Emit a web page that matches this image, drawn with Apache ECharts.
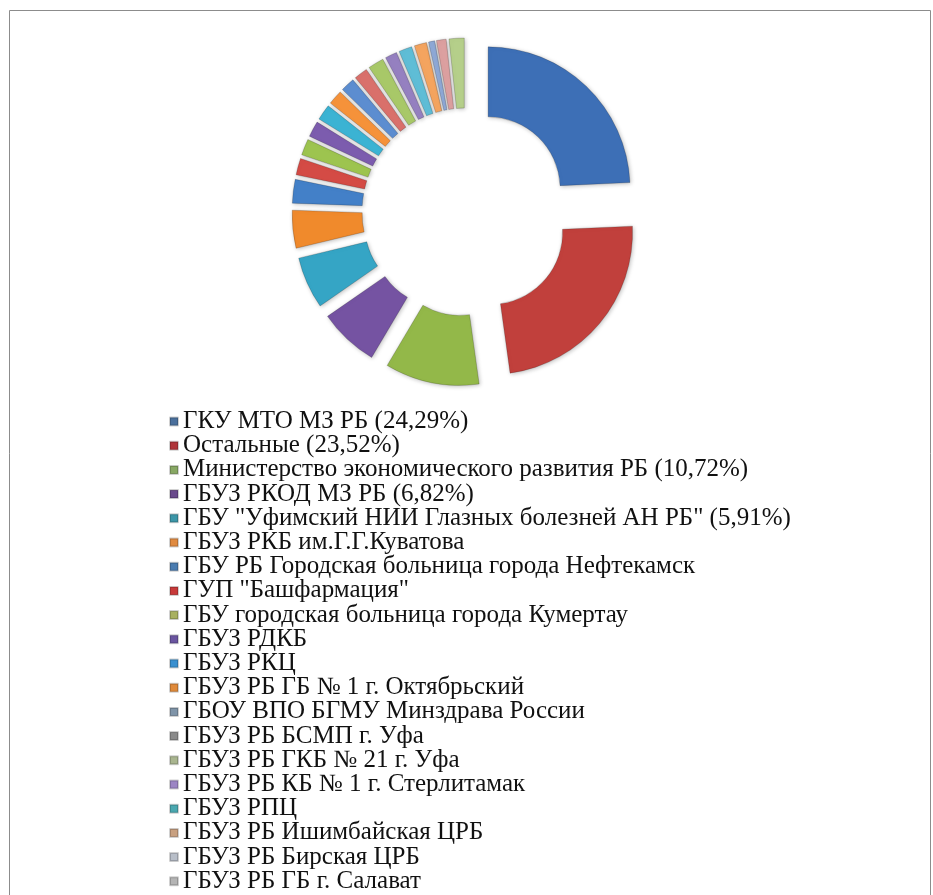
<!DOCTYPE html>
<html>
<head>
<meta charset="utf-8">
<script src="https://cdn.jsdelivr.net/npm/echarts@6/dist/echarts.min.js"></script>
<style>
  html, body { margin: 0; padding: 0; background: #ffffff; }
  #chart { width: 933px; height: 895px; }
</style>
</head>
<body>
<div id="chart"></div>
<script>
// Legend labels (as shown)
const categories = [
  'ГКУ МТО МЗ РБ (24,29%)',
  'Остальные (23,52%)',
  'Министерство экономического развития РБ (10,72%)',
  'ГБУЗ РКОД МЗ РБ (6,82%)',
  'ГБУ "Уфимский НИИ Глазных болезней АН РБ" (5,91%)',
  'ГБУЗ РКБ им.Г.Г.Куватова',
  'ГБУ РБ Городская больница города Нефтекамск',
  'ГУП "Башфармация"',
  'ГБУ городская больница города Кумертау',
  'ГБУЗ РДКБ',
  'ГБУЗ РКЦ',
  'ГБУЗ РБ ГБ № 1 г. Октябрьский',
  'ГБОУ ВПО БГМУ Минздрава России',
  'ГБУЗ РБ БСМП г. Уфа',
  'ГБУЗ РБ ГКБ № 21 г. Уфа',
  'ГБУЗ РБ КБ № 1 г. Стерлитамак',
  'ГБУЗ РПЦ',
  'ГБУЗ РБ Ишимбайская ЦРБ',
  'ГБУЗ РБ Бирская ЦРБ',
  'ГБУЗ РБ ГБ г. Салават'
];
// Shares, % (the last slice's legend entry is cut off at the bottom of the picture)
const shares = [24.29, 23.52, 10.72, 6.82, 5.91, 4.3, 2.7, 1.9, 1.85, 1.8, 1.8, 1.67, 1.6, 1.55, 1.8, 1.35, 1.5, 1.4, 0.7, 1.1, 1.72];
const sliceColors = [
  '#3d6fb6', '#c1403c', '#93b849', '#7553a2', '#35a5c5', '#f08a2c',
  '#4380c8', '#d44b45', '#9dc44f', '#7c5cae', '#3bb3d3', '#f5923a',
  '#5c8dd0', '#d9706b', '#a8c868', '#9580c0', '#5fbdd6', '#f4a45f',
  '#8fa9d6', '#dca0a0', '#b5cf8a'
];
const legendColors = [
  '#4a6f9c', '#b0353a', '#88a864', '#6a4a8c', '#3c96a8', '#e08a40',
  '#4a7cb0', '#c83a3a', '#a8b060', '#6a55a0', '#3a90d0', '#e08a3a',
  '#7f94a8', '#8a8a8a', '#a9b58f', '#9c85c4', '#4aa8b0', '#c8a080',
  '#b8bec8', '#b4b4b4'
];

const pieData = shares.map((v, i) => ({
  name: i < categories.length ? categories[i] : '',
  value: v,
  selected: true,
  itemStyle: { color: sliceColors[i] }
}));

const chart = echarts.init(document.getElementById('chart'), null, { renderer: 'canvas' });
chart.setOption({
  animation: false,
  backgroundColor: '#ffffff',
  graphic: [{
    type: 'rect',
    shape: { x: 9.5, y: 10.5, width: 921, height: 900 },
    style: { fill: 'none', stroke: '#8c8c8c', lineWidth: 1 },
    silent: true
  }],
  legend: {
    orient: 'vertical',
    left: 164,
    top: 404,
    height: 600,
    itemWidth: 8,
    itemHeight: 8,
    itemGap: -0.8,
    icon: 'rect',
    selectedMode: false,
    textStyle: { fontFamily: 'Liberation Serif', fontSize: 25, lineHeight: 24, color: '#111111' },
    data: categories.map((n, i) => ({ name: n, itemStyle: { color: legendColors[i] } }))
  },
  series: [{
    type: 'pie',
    center: [466, 212],
    radius: [72, 142],
    startAngle: 90,
    clockwise: true,
    selectedMode: 'multiple',
    selectedOffset: 32,
    label: { show: false },
    labelLine: { show: false },
    emphasis: { disabled: true },
    itemStyle: {
      borderColor: 'rgba(0,0,0,0.18)',
      borderWidth: 1,
      shadowBlur: 4,
      shadowColor: 'rgba(0,0,0,0.25)',
      shadowOffsetX: 1,
      shadowOffsetY: 1
    },
    data: pieData
  }]
});
</script>
</body>
</html>
